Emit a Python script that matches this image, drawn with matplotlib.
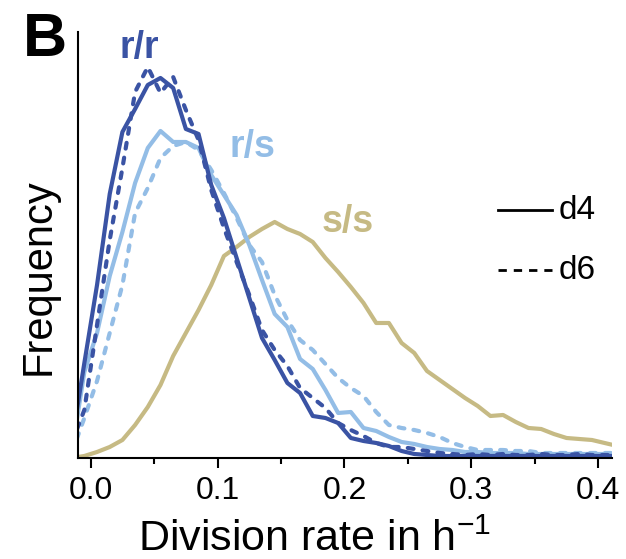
import matplotlib
matplotlib.use("Agg")
import matplotlib.pyplot as plt

plt.rcParams['font.family'] = ['Liberation Sans', 'DejaVu Sans']

# bin centres (division rate, 1/h)
rate = [-0.015, -0.005, 0.005, 0.015, 0.025, 0.035, 0.045, 0.055, 0.065, 0.075,
        0.085, 0.095, 0.105, 0.115, 0.125, 0.135, 0.145, 0.155, 0.165, 0.175,
        0.185, 0.195, 0.205, 0.215, 0.225, 0.235, 0.245, 0.255, 0.265, 0.275,
        0.285, 0.295, 0.305, 0.315, 0.325, 0.335, 0.345, 0.355, 0.365, 0.375,
        0.385, 0.395, 0.405, 0.415]

# frequencies (arbitrary units)
rr_d4 = [15, 95, 173, 264, 326, 349, 373, 380, 370, 329,
         324, 273, 240, 200, 160, 120, 98, 75, 65, 42,
         40, 35, 20, 17, 15, 12, 7, 4, 3, 2,
         2, 2, 2, 2, 2, 2, 2, 2, 2, 2,
         2, 2, 2, 2]
rr_d6 = [15, 48, 133, 218, 290, 366, 391, 365, 381, 348,
         318, 268, 230, 196, 163, 128, 108, 92, 70, 60,
         50, 35, 28, 22, 15, 11, 11, 9, 7, 5,
         4, 3, 4, 3, 4, 3, 3, 4, 3, 3,
         4, 3, 3, 3]
rs_d4 = [5, 86, 125, 182, 226, 275, 310, 327, 316, 316,
         310, 283, 263, 243, 213, 178, 144, 131, 99, 89,
         68, 45, 46, 30, 27, 21, 16, 14, 11, 9,
         8, 6, 6, 5, 5, 5, 4, 4, 4, 4,
         4, 4, 4, 4]
rs_d6 = [5, 40, 77, 125, 173, 245, 270, 300, 312, 316,
         308, 288, 265, 240, 213, 196, 163, 138, 118, 108,
         94, 80, 70, 62, 46, 33, 30, 28, 25, 21,
         15, 11, 8, 8, 8, 7, 7, 5, 5, 5,
         5, 5, 5, 5]
ss_d4 = [0, 2, 6, 11, 18, 33, 51, 73, 102, 125,
         148, 173, 202, 211, 221, 229, 236, 229, 224, 216,
         200, 186, 171, 155, 135, 135, 115, 105, 87, 78,
         69, 60, 52, 42, 43, 36, 30, 29, 24, 20,
         19, 18, 15, 12]

dark = '#3a53a4'
light = '#93bde6'
tan = '#c6ba84'
lw = 3.0
dash = (0, (1.4, 2.2))

fig = plt.figure(figsize=(6.26, 5.59), dpi=100)
ax = fig.add_axes([0.1246, 0.1807, 0.8534, 0.7621])

ax.plot(rate, ss_d4, color=tan, lw=lw)
ax.plot(rate, rs_d6, color=light, lw=lw, ls=dash, dash_capstyle='round')
ax.plot(rate, rs_d4, color=light, lw=lw)
ax.plot(rate, rr_d6, color=dark, lw=lw, ls=dash, dash_capstyle='round')
ax.plot(rate, rr_d4, color=dark, lw=lw)

ax.set_xlim(-0.01, 0.411)
ax.set_ylim(0, 426)
ax.set_yticks([])
ax.set_xticks([0.0, 0.1, 0.2, 0.3, 0.4])
ax.set_xticklabels(['0.0', '0.1', '0.2', '0.3', '0.4'])
ax.set_xticks([0.05, 0.15, 0.25, 0.35], minor=True)
ax.tick_params(axis='x', which='major', length=7, width=1.5, labelsize=23, pad=6)
ax.tick_params(axis='x', which='minor', length=4, width=1.5)
for s in ['top', 'right']:
    ax.spines[s].set_visible(False)
for s in ['left', 'bottom']:
    ax.spines[s].set_linewidth(1.5)

# group labels
ax.text(0.114, 0.962, 'r/r', transform=ax.transAxes, color=dark, fontsize=27,
        fontweight='bold', ha='center', va='center')
ax.text(0.326, 0.730, 'r/s', transform=ax.transAxes, color=light, fontsize=27,
        fontweight='bold', ha='center', va='center')
ax.text(0.504, 0.554, 's/s', transform=ax.transAxes, color=tan, fontsize=27,
        fontweight='bold', ha='center', va='center')

# legend drawn by hand
ax.plot([0.787, 0.888], [0.582, 0.582], transform=ax.transAxes, color='black', lw=2)
ax.plot([0.787, 0.888], [0.441, 0.441], transform=ax.transAxes, color='black', lw=2,
        ls=(0, (3, 2.5)))
ax.text(0.900, 0.580, 'd4', transform=ax.transAxes, fontsize=24, va='center')
ax.text(0.900, 0.439, 'd6', transform=ax.transAxes, fontsize=24, va='center')

fig.text(0.503, 0.034, 'Division rate in h$^{\\mathregular{-1}}$', fontsize=31,
         ha='center', va='center')
fig.text(0.062, 0.505, 'Frequency', fontsize=30, rotation=90, ha='center', va='center')
fig.text(0.072, 0.928, 'B', fontsize=44, fontweight='bold', ha='center', va='center')

fig.savefig('out.png', dpi=100)
